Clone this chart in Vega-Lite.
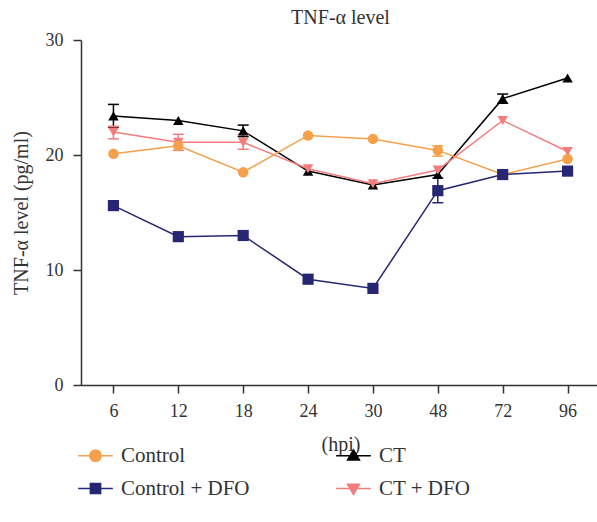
{
  "$schema": "https://vega.github.io/schema/vega-lite/v6.json",
  "width": 519,
  "height": 345,
  "autosize": {"type": "none"},
  "padding": {"left": 81, "top": 40, "right": 0, "bottom": 137},
  "background": "white",
  "config": {
    "font": "Liberation Serif",
    "view": {"stroke": null},
    "axis": {"grid": false, "domainColor": "#333333", "tickColor": "#333333", "domainWidth": 1.5, "tickWidth": 1.5, "tickSize": 8, "labelFont": "Liberation Serif", "titleFont": "Liberation Serif", "labelFontSize": 18, "titleFontSize": 20, "labelColor": "#333333", "titleColor": "#333333", "titleFontWeight": "normal"}
  },
  "title": {"text": "TNF-α level", "font": "Liberation Serif", "fontSize": 20, "fontWeight": "normal", "color": "#333333", "offset": 3, "anchor": "middle"},
  "data": {
    "values": [
      {"series": "CT", "hpi": "6", "value": 23.4, "lo": 22.4, "hi": 24.4},
      {"series": "CT", "hpi": "12", "value": 23.0, "lo": null, "hi": null},
      {"series": "CT", "hpi": "18", "value": 22.1, "lo": 21.6, "hi": 22.6},
      {"series": "CT", "hpi": "24", "value": 18.6, "lo": null, "hi": null},
      {"series": "CT", "hpi": "30", "value": 17.4, "lo": null, "hi": null},
      {"series": "CT", "hpi": "48", "value": 18.3, "lo": null, "hi": null},
      {"series": "CT", "hpi": "72", "value": 24.9, "lo": 24.5, "hi": 25.3},
      {"series": "CT", "hpi": "96", "value": 26.7, "lo": null, "hi": null},
      {"series": "CT + DFO", "hpi": "6", "value": 22.0, "lo": 21.4, "hi": 22.5},
      {"series": "CT + DFO", "hpi": "12", "value": 21.1, "lo": 20.4, "hi": 21.8},
      {"series": "CT + DFO", "hpi": "18", "value": 21.1, "lo": 20.5, "hi": 21.8},
      {"series": "CT + DFO", "hpi": "24", "value": 18.8, "lo": null, "hi": null},
      {"series": "CT + DFO", "hpi": "30", "value": 17.5, "lo": null, "hi": null},
      {"series": "CT + DFO", "hpi": "48", "value": 18.7, "lo": null, "hi": null},
      {"series": "CT + DFO", "hpi": "72", "value": 23.0, "lo": null, "hi": null},
      {"series": "CT + DFO", "hpi": "96", "value": 20.3, "lo": null, "hi": null},
      {"series": "Control", "hpi": "6", "value": 20.1, "lo": null, "hi": null},
      {"series": "Control", "hpi": "12", "value": 20.8, "lo": null, "hi": null},
      {"series": "Control", "hpi": "18", "value": 18.5, "lo": null, "hi": null},
      {"series": "Control", "hpi": "24", "value": 21.7, "lo": null, "hi": null},
      {"series": "Control", "hpi": "30", "value": 21.4, "lo": null, "hi": null},
      {"series": "Control", "hpi": "48", "value": 20.4, "lo": 19.9, "hi": 20.8},
      {"series": "Control", "hpi": "72", "value": 18.3, "lo": null, "hi": null},
      {"series": "Control", "hpi": "96", "value": 19.65, "lo": null, "hi": null},
      {"series": "Control + DFO", "hpi": "6", "value": 15.6, "lo": 15.2, "hi": 15.9},
      {"series": "Control + DFO", "hpi": "12", "value": 12.9, "lo": null, "hi": null},
      {"series": "Control + DFO", "hpi": "18", "value": 13.0, "lo": null, "hi": null},
      {"series": "Control + DFO", "hpi": "24", "value": 9.2, "lo": null, "hi": null},
      {"series": "Control + DFO", "hpi": "30", "value": 8.4, "lo": null, "hi": null},
      {"series": "Control + DFO", "hpi": "48", "value": 16.9, "lo": 15.85, "hi": 18.0},
      {"series": "Control + DFO", "hpi": "72", "value": 18.3, "lo": null, "hi": null},
      {"series": "Control + DFO", "hpi": "96", "value": 18.6, "lo": null, "hi": null}
    ]
  },
  "encoding": {
    "x": {"field": "hpi", "type": "ordinal", "sort": ["6", "12", "18", "24", "30", "48", "72", "96"], "scale": {"type": "point", "padding": 0.5}, "axis": {"title": "(hpi)", "labelAngle": 0, "labelPadding": 9, "titlePadding": 14}},
    "y": {"field": "value", "type": "quantitative", "scale": {"domain": [0, 30]}, "axis": {"title": "TNF-α level (pg/ml)", "values": [0, 10, 20, 30], "labelPadding": 10, "titlePadding": 14}},
    "color": {
      "field": "series", "type": "nominal",
      "scale": {"domain": ["Control", "Control + DFO", "CT", "CT + DFO"], "range": ["#F5A04B", "#262673", "#000000", "#F47C7C"]},
      "legend": {
        "title": null, "orient": "none", "legendX": -3, "legendY": 398, "columns": 2, "columnPadding": 83, "rowPadding": 5,
        "symbolSize": 1089, "symbolStrokeWidth": 1.5, "labelOffset": 8, "labelFontSize": 21, "labelFont": "Liberation Serif", "labelColor": "#333333", "labelLimit": 300,
        "encode": {
          "symbols": {
            "update": {
              "shape": {"signal": "datum.value === 'Control' ? 'M-1.05,0H1.05M-0.35,0A0.35,0.35 0 1,0 0.35,0A0.35,0.35 0 1,0 -0.35,0Z' : datum.value === 'Control + DFO' ? 'M-1.05,0H1.05M-0.31,-0.31H0.31V0.31H-0.31Z' : datum.value === 'CT' ? 'M-1.05,0H1.05M0,-0.36L0.36,0.26H-0.36Z' : 'M-1.05,0H1.05M0,0.36L0.36,-0.26H-0.36Z'"},
              "fill": {"signal": "scale('color', datum.value)"},
              "stroke": {"signal": "scale('color', datum.value)"},
              "strokeWidth": {"value": 1.5},
              "opacity": {"value": 1},
              "fillOpacity": {"value": 1}
            }
          }
        }
      }
    }
  },
  "layer": [
    {
      "mark": {"type": "line", "strokeWidth": 1.5}
    },
    {
      "transform": [{"filter": "datum.lo != null"}],
      "mark": {"type": "rule", "strokeWidth": 1.5},
      "encoding": {
        "y": {"field": "lo", "type": "quantitative"},
        "y2": {"field": "hi"}
      }
    },
    {
      "transform": [{"filter": "datum.lo != null"}],
      "mark": {"type": "tick", "size": 11, "thickness": 1.5, "opacity": 1},
      "encoding": {"y": {"field": "lo", "type": "quantitative"}}
    },
    {
      "transform": [{"filter": "datum.hi != null"}],
      "mark": {"type": "tick", "size": 11, "thickness": 1.5, "opacity": 1},
      "encoding": {"y": {"field": "hi", "type": "quantitative"}}
    },
    {
      "transform": [{"filter": "datum.series === 'CT'"}],
      "mark": {"type": "point", "filled": true, "opacity": 1, "size": 110, "shape": "triangle-up"}
    },
    {
      "transform": [{"filter": "datum.series === 'CT + DFO'"}],
      "mark": {"type": "point", "filled": true, "opacity": 1, "size": 110, "shape": "triangle-down"}
    },
    {
      "transform": [{"filter": "datum.series === 'Control'"}],
      "mark": {"type": "point", "filled": true, "opacity": 1, "size": 110, "shape": "circle"}
    },
    {
      "transform": [{"filter": "datum.series === 'Control + DFO'"}],
      "mark": {"type": "point", "filled": true, "opacity": 1, "size": 125, "shape": "square"}
    }
  ]
}
